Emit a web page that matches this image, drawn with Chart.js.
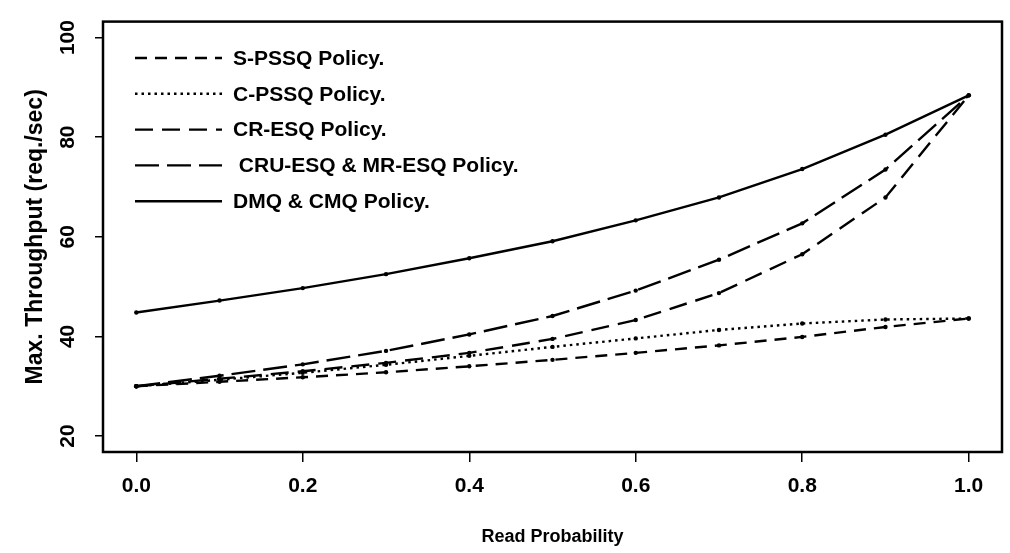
<!DOCTYPE html>
<html>
<head>
<meta charset="utf-8">
<script src="https://cdn.jsdelivr.net/npm/chart.js@4.4.0/dist/chart.umd.min.js"></script>
<style>
  body { margin: 0; background: #fff; }
  canvas { display: block; }
</style>
</head>
<body>
<canvas id="tputChart" width="1010" height="553"></canvas>
<script>
// data
const readProb = [0, 0.1, 0.2, 0.3, 0.4, 0.5, 0.6, 0.7, 0.8, 0.9, 1.0];
const spssq  = [30, 30.9, 31.8, 32.8, 34.0, 35.3, 36.7, 38.2, 39.9, 41.9, 43.6];
const cpssq  = [30, 31.3, 32.7, 34.3, 36.1, 37.9, 39.6, 41.3, 42.6, 43.4, 43.6];
const cresq  = [30, 31.5, 33.0, 34.7, 36.7, 39.5, 43.3, 48.7, 56.5, 67.9, 88.4];
const cruesq = [30, 32.1, 34.4, 37.1, 40.4, 44.1, 49.2, 55.4, 62.7, 73.5, 88.4];
const dmq    = [44.8, 47.2, 49.7, 52.5, 55.7, 59.1, 63.3, 67.9, 73.6, 80.5, 88.4];

const seriesLabels = ["S-PSSQ Policy.", "C-PSSQ Policy.", "CR-ESQ Policy.", " CRU-ESQ & MR-ESQ Policy.", "DMQ & CMQ Policy."];
const xTicks = [0, 0.2, 0.4, 0.6, 0.8, 1.0];
const yTicks = [20, 40, 60, 80, 100];

const FONT = "'Liberation Sans', Arial, Helvetica, sans-serif";

function pts(vals) {
  return readProb.map((p, i) => ({ x: p, y: vals[i] }));
}

function line(label, vals, dash) {
  return {
    label: label,
    data: pts(vals),
    borderColor: "#000",
    backgroundColor: "#000",
    borderWidth: 2.4,
    borderDash: dash,
    pointRadius: 2.2,
    pointBorderWidth: 0,
    pointBackgroundColor: "#000",
    tension: 0,
    fill: false
  };
}

const data = {
  datasets: [
    line(seriesLabels[0], spssq, [12, 8]),
    line(seriesLabels[1], cpssq, [2.5, 4]),
    line(seriesLabels[2], cresq, [18, 9]),
    line(seriesLabels[3], cruesq, [24, 8]),
    line(seriesLabels[4], dmq, [])
  ]
};

// box round the plot, like R's bty="o"
const boxPlugin = {
  id: "box",
  afterDraw(chart) {
    const a = chart.chartArea;
    const ctx = chart.ctx;
    ctx.save();
    ctx.strokeStyle = "#000";
    ctx.lineWidth = 2.5;
    ctx.setLineDash([]);
    ctx.strokeRect(a.left, a.top, a.right - a.left, a.bottom - a.top);
    ctx.restore();
  }
};

// legend drawn inside the plot, top-left
const legendPlugin = {
  id: "insideLegend",
  afterDatasetsDraw(chart) {
    const ctx = chart.ctx;
    const x0 = 135, x1 = 222, tx = 233, y0 = 58, step = 35.8;
    ctx.save();
    chart.data.datasets.forEach((ds, i) => {
      const y = y0 + i * step;
      ctx.strokeStyle = "#000";
      ctx.lineWidth = ds.borderWidth;
      ctx.setLineDash(ds.borderDash);
      ctx.beginPath();
      ctx.moveTo(x0, y);
      ctx.lineTo(x1, y);
      ctx.stroke();
      ctx.setLineDash([]);
      ctx.fillStyle = "#000";
      ctx.font = "bold 21px " + FONT;
      ctx.textBaseline = "middle";
      ctx.textAlign = "left";
      ctx.fillText(ds.label, tx, y + 1);
    });
    ctx.restore();
  }
};

const config = {
  type: "line",
  data,
  options: {
    responsive: false,
    animation: false,
    devicePixelRatio: 1,
    layout: { padding: { left: 0, top: 13, right: 8, bottom: 0 } },
    plugins: {
      legend: { display: false },
      tooltip: { enabled: false }
    },
    scales: {
      x: {
        type: "linear",
        min: -0.04,
        max: 1.04,
        afterBuildTicks: (s) => { s.ticks = xTicks.map(v => ({ value: v })); },
        afterFit: (s) => { s.height = 101; },
        grid: { drawOnChartArea: false, drawTicks: true, tickLength: 10, color: "#000", lineWidth: 1.5 },
        border: { display: true, color: "#000", width: 2 },
        ticks: {
          color: "#000",
          padding: 12,
          maxRotation: 0,
          font: { family: FONT, size: 21, weight: "bold" },
          callback: (v) => Number(v).toFixed(1)
        },
        title: {
          display: true,
          text: "Read Probability",
          color: "#000",
          font: { family: FONT, size: 18, weight: "bold" },
          padding: { top: 0, bottom: 5 }
        }
      },
      y: {
        type: "linear",
        min: 16.8,
        max: 103.2,
        afterBuildTicks: (s) => { s.ticks = yTicks.map(v => ({ value: v })); },
        afterFit: (s) => { s.width = 103; },
        grid: { drawOnChartArea: false, drawTicks: true, tickLength: 8, color: "#000", lineWidth: 1.5 },
        border: { display: true, color: "#000", width: 2 },
        ticks: {
          color: "#000",
          padding: 9,
          minRotation: 90,
          maxRotation: 90,
          crossAlign: "center",
          font: { family: FONT, size: 21, weight: "bold" },
          callback: (v) => String(v)
        },
        title: {
          display: true,
          text: "Max. Throughput (req./sec)",
          color: "#000",
          font: { family: FONT, size: 23, weight: "bold" },
          padding: { top: 22, bottom: 0 }
        }
      }
    }
  },
  plugins: [boxPlugin, legendPlugin]
};

const myChart = new Chart(document.getElementById("tputChart"), config);
</script>
</body>
</html>
